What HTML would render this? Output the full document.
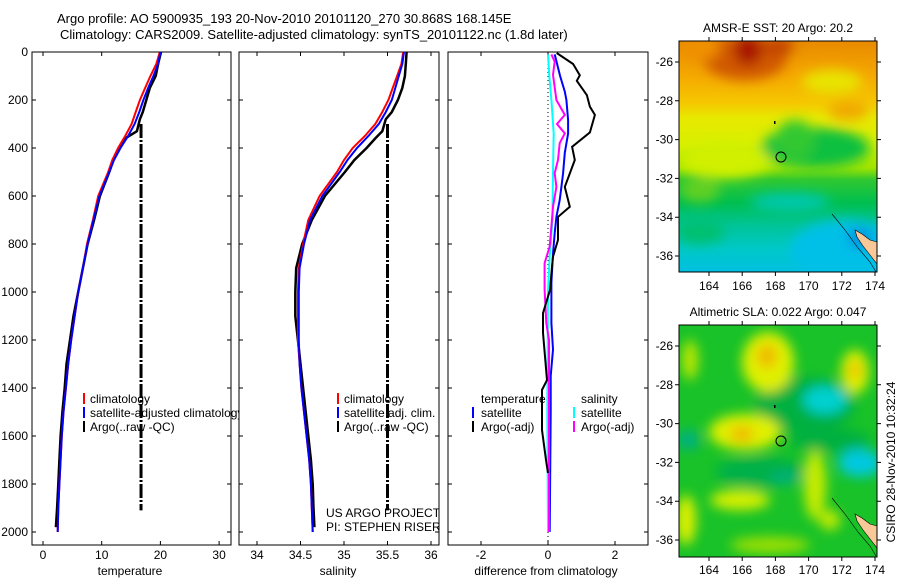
<!DOCTYPE html>
<html><head><meta charset="utf-8"><style>
html,body{margin:0;padding:0;background:#fff;width:900px;height:580px;overflow:hidden}
svg{display:block;font-family:"Liberation Sans",sans-serif}
</style></head><body>
<svg id="fig" width="900" height="580" viewBox="0 0 900 580" xmlns="http://www.w3.org/2000/svg">
<defs>
<clipPath id="c1"><rect x="32" y="52" width="207" height="494"/></clipPath>
<clipPath id="c2"><rect x="239" y="52" width="200" height="494"/></clipPath>
<clipPath id="c3"><rect x="448" y="52" width="200" height="494"/></clipPath>
<clipPath id="m1c"><rect x="679" y="41" width="198" height="231"/></clipPath>
<clipPath id="m2c"><rect x="679" y="325" width="198" height="232"/></clipPath>
<filter id="bl" filterUnits="userSpaceOnUse" x="600" y="0" width="300" height="580"><feGaussianBlur stdDeviation="6"/></filter>
<linearGradient id="sstg" x1="0" y1="0" x2="0" y2="1">
<stop offset="0" stop-color="#e88a00"/><stop offset="0.15" stop-color="#f5a800"/>
<stop offset="0.27" stop-color="#f5c800"/><stop offset="0.33" stop-color="#e8e800"/>
<stop offset="0.45" stop-color="#d8f000"/><stop offset="0.55" stop-color="#a0e400"/>
<stop offset="0.6" stop-color="#30c830"/><stop offset="0.7" stop-color="#00bf50"/>
<stop offset="0.8" stop-color="#00c498"/><stop offset="0.9" stop-color="#00c8c8"/>
<stop offset="1" stop-color="#00c0e0"/></linearGradient>
</defs>

<text x="57" y="23" font-size="13">Argo profile: AO 5900935_193 20-Nov-2010 20101120_270 30.868S 168.145E</text>
<text x="60" y="39" font-size="13">Climatology: CARS2009. Satellite-adjusted climatology: synTS_20101122.nc (1.8d later)</text>

<g clip-path="url(#m1c)">
<rect x="679" y="41" width="198" height="231" fill="url(#sstg)"/>
<g filter="url(#bl)">
<ellipse cx="745" cy="58" rx="42" ry="22" fill="#d05800"/>
<ellipse cx="748" cy="50" rx="14" ry="15" fill="#a81800"/>
<ellipse cx="778" cy="46" rx="16" ry="8" fill="#c04000"/>
<ellipse cx="700" cy="50" rx="20" ry="10" fill="#f09000"/>
<ellipse cx="832" cy="82" rx="30" ry="12" fill="#e8e400"/>
<ellipse cx="848" cy="110" rx="20" ry="10" fill="#f0a800"/>
<ellipse cx="815" cy="148" rx="55" ry="20" fill="#10c040"/>
<ellipse cx="795" cy="140" rx="20" ry="20" fill="#30c830"/>
<ellipse cx="725" cy="160" rx="45" ry="18" fill="#d0f000"/>
<ellipse cx="700" cy="190" rx="20" ry="12" fill="#60d020"/>
<ellipse cx="790" cy="202" rx="40" ry="9" fill="#00c8b0"/>
<ellipse cx="845" cy="250" rx="55" ry="30" fill="#00c0e8"/>
<ellipse cx="860" cy="238" rx="12" ry="10" fill="#0090e0"/>
<ellipse cx="700" cy="232" rx="25" ry="12" fill="#00c070"/>
</g>
<polygon points="855,230 862,234 870,240 877,242 877,264 870,255 863,246 857,237" fill="#f8c898" stroke="#000" stroke-width="0.6"/>
<polyline points="832,214 845,230 858,248 870,262 876,272" fill="none" stroke="#000" stroke-width="0.6"/>
<circle cx="781" cy="157" r="5" fill="none" stroke="#000" stroke-width="1"/>
<rect x="774" y="121" width="1.5" height="3" fill="#000"/>
</g>
<rect x="679" y="41" width="198" height="231" fill="none" stroke="#000" stroke-width="1"/>
<text x="778" y="32" font-size="12" text-anchor="middle">AMSR-E SST: 20 Argo: 20.2</text>

<g clip-path="url(#m2c)">
<rect x="679" y="325" width="198" height="232" fill="#18c228"/>
<g filter="url(#bl)">
<ellipse cx="805" cy="405" rx="50" ry="28" fill="#00b040"/>
<ellipse cx="760" cy="472" rx="45" ry="15" fill="#00b048"/>
<ellipse cx="830" cy="440" rx="40" ry="12" fill="#00b040"/>
<ellipse cx="768" cy="362" rx="26" ry="30" fill="#e0f000"/>
<ellipse cx="855" cy="372" rx="14" ry="22" fill="#e0f000"/>
<ellipse cx="745" cy="432" rx="36" ry="18" fill="#e0f000"/>
<ellipse cx="815" cy="485" rx="11" ry="35" fill="#c8ec00"/>
<ellipse cx="740" cy="500" rx="30" ry="10" fill="#d8f000"/>
<ellipse cx="686" cy="520" rx="10" ry="25" fill="#e0f000"/>
<ellipse cx="830" cy="520" rx="10" ry="10" fill="#c8ec00"/>
<ellipse cx="770" cy="545" rx="40" ry="8" fill="#a0e000"/>
<ellipse cx="690" cy="360" rx="8" ry="20" fill="#c0e800"/>
<ellipse cx="767" cy="356" rx="10" ry="12" fill="#f0b800"/>
<ellipse cx="855" cy="370" rx="6" ry="8" fill="#f0b800"/>
<ellipse cx="742" cy="434" rx="12" ry="8" fill="#f0b800"/>
<ellipse cx="825" cy="400" rx="22" ry="14" fill="#00d0d0"/>
<ellipse cx="860" cy="463" rx="22" ry="14" fill="#00c8e0"/>
<ellipse cx="688" cy="440" rx="12" ry="10" fill="#00b080"/>
<ellipse cx="785" cy="478" rx="15" ry="6" fill="#00b080"/>
</g>
<polygon points="855,514 862,518 870,524 877,526 877,548 870,539 863,530 857,521" fill="#f8c898" stroke="#000" stroke-width="0.6"/>
<polyline points="832,498 845,514 858,532 870,546 876,556" fill="none" stroke="#000" stroke-width="0.6"/>
<circle cx="781" cy="441" r="5" fill="none" stroke="#000" stroke-width="1"/>
<rect x="774" y="405" width="1.5" height="3" fill="#000"/>
</g>
<rect x="679" y="325" width="198" height="232" fill="none" stroke="#000" stroke-width="1"/>
<text x="778" y="316" font-size="12" text-anchor="middle">Altimetric SLA: 0.022 Argo: 0.047</text>

<text x="0" y="0" font-size="12" text-anchor="middle" transform="translate(895,462) rotate(-90)">CSIRO 28-Nov-2010 10:32:24</text>

<g id="plots"></g>

<g clip-path="url(#c1)" font-size="12">
<rect x="83" y="393" width="2" height="11" fill="#f00"/><text x="90" y="403">climatology</text>
<rect x="83" y="407" width="2" height="11" fill="#00f"/><text x="90" y="417">satellite-adjusted climatology</text>
<rect x="83" y="421" width="2" height="11" fill="#000"/><text x="90" y="431">Argo(..raw -QC)</text>
</g>
<g clip-path="url(#c2)" font-size="12">
<rect x="337" y="393" width="2" height="11" fill="#f00"/><text x="344" y="403">climatology</text>
<rect x="337" y="407" width="2" height="11" fill="#00f"/><text x="344" y="417">satellite adj. clim.</text>
<rect x="337" y="421" width="2" height="11" fill="#000"/><text x="344" y="431">Argo(..raw -QC)</text>
<text x="326" y="517">US ARGO PROJECT</text>
<text x="326" y="531">PI: STEPHEN RISER</text>
</g>
<g clip-path="url(#c3)" font-size="12">
<text x="481" y="403">temperature</text>
<rect x="472" y="407" width="2" height="11" fill="#00f"/><text x="481" y="417">satellite</text>
<rect x="472" y="421" width="2" height="11" fill="#000"/><text x="481" y="431">Argo(-adj)</text>
<text x="581" y="403">salinity</text>
<rect x="573" y="407" width="2" height="11" fill="#0ff"/><text x="581" y="417">satellite</text>
<rect x="573" y="421" width="2" height="11" fill="#f0f"/><text x="581" y="431">Argo(-adj)</text>
</g>

<text x="130" y="575" font-size="12" text-anchor="middle">temperature</text>
<text x="338" y="575" font-size="12" text-anchor="middle">salinity</text>
<text x="546" y="575" font-size="12" text-anchor="middle">difference from climatology</text>
</svg>
<script>
const depthClim = [0,50,100,150,200,250,300,350,400,450,500,600,700,800,900,1000,1100,1200,1300,1400,1500,1600,1700,1800,1900,2000];
const tempClim = [19.9,19.3,18.3,17.4,16.5,15.8,15.1,14.0,12.8,11.8,11.1,9.4,8.5,7.5,6.8,6.0,5.4,4.8,4.3,3.9,3.5,3.2,3.0,2.8,2.6,2.5];
const tempSat = [20.0,19.6,18.8,17.9,17.1,16.4,15.6,14.5,13.2,12.1,11.3,9.6,8.6,7.6,6.8,6.0,5.4,4.8,4.3,3.9,3.5,3.2,3.0,2.8,2.6,2.5];
const depthArgo = [0,50,100,150,200,250,280,330,360,400,450,500,600,700,800,900,1000,1100,1200,1300,1400,1500,1600,1700,1800,1900,1980];
const tempArgo = [20.1,19.6,19.2,18.2,17.6,17.0,16.5,16.0,14.0,13.0,12.0,11.3,9.7,8.7,7.6,6.8,6.0,5.2,4.6,4.0,3.7,3.3,3.0,2.8,2.6,2.4,2.2];
const salClim = [35.68,35.66,35.61,35.56,35.51,35.44,35.36,35.24,35.10,35.00,34.92,34.72,34.59,34.53,34.48,34.47,34.47,34.47,34.49,34.51,34.54,34.57,34.60,34.62,34.63,34.64];
const salSat = [35.69,35.67,35.63,35.59,35.55,35.48,35.40,35.28,35.15,35.04,34.95,34.75,34.61,34.54,34.49,34.48,34.48,34.48,34.49,34.51,34.54,34.57,34.60,34.62,34.63,34.64];
const salArgo = [35.72,35.71,35.70,35.67,35.62,35.55,35.48,35.44,35.36,35.26,35.12,35.01,34.78,34.63,34.52,34.45,34.44,34.44,34.47,34.50,34.53,34.56,34.59,34.62,34.64,34.65,34.66];
const qcDepths = [300,1910];
const tempQC = 16.7;
const salQC = 35.5;
const dTempArgoDepth = [4,50,97,120,180,228,262,335,395,450,562,645,687,783,853,895,992,1088,1170,1367,1408,1575,1700,1754];
const dTempArgo = [0.26,0.75,0.95,0.86,1.16,1.25,1.4,1.25,0.72,0.8,0.5,0.65,0.3,0.3,0.15,0.12,0.06,-0.15,-0.15,-0.03,-0.18,-0.18,-0.06,0.0];
const dTempSatDepth = [10,100,165,200,283,340,420,505,562,617,687,755,840,960,1130,1240,1350,1500,2000];
const dTempSat = [0.2,0.36,0.5,0.55,0.6,0.6,0.5,0.45,0.4,0.35,0.25,0.2,0.15,0.1,0.1,0.15,0.08,0.08,0.05];
const dSalSatDepth = [10,100,200,340,500,700,850,1000,1500,2000];
const dSalSat = [0.0,0.04,0.1,0.17,0.15,0.13,0.05,0.0,-0.02,0.0];
const dSalArgoDepth = [10,40,95,200,262,300,339,380,450,505,562,645,727,810,880,990,1130,1200,2000];
const dSalArgo = [0.1,0.2,0.15,0.25,0.5,0.27,0.5,0.35,0.3,0.2,0.25,0.15,0.1,0.05,-0.1,-0.1,-0.05,0.03,0.03];
const depthTicks = [0,200,400,600,800,1000,1200,1400,1600,1800,2000];
const tempTicks = [0,10,20,30];
const salTicks = [34,34.5,35,35.5,36];
const diffTicks = [-2,0,2];
const lonTicks = [164,166,168,170,172,174];
const latTicks = [-26,-28,-30,-32,-34,-36];

const NS = 'http://www.w3.org/2000/svg';
const root = document.getElementById('plots');
const yD = d => 52 + d * 0.24;
const xT = t => 43 + t * 5.87;
const xS = s => 257 + (s - 34) * 87;
const xDf = v => 548 + v * 33.5;
const lonX = l => 709 + (l - 164) * 16.6;
const latY1 = l => 62 + (-26 - l) * 19.4;
const latY2 = l => 346 + (-26 - l) * 19.4;

function mk(tag, attrs, parent) {
  const el = document.createElementNS(NS, tag);
  for (const k in attrs) el.setAttribute(k, attrs[k]);
  (parent || root).appendChild(el);
  return el;
}

function line(xs, ds, xf, color, w, clip, name) {
  const pts = xs.map((v, i) => xf(v).toFixed(1) + ',' + yD(ds[i]).toFixed(1)).join(' ');
  const el = mk('polyline', {points: pts, fill: 'none', stroke: color, 'stroke-width': w, 'clip-path': 'url(#' + clip + ')'});
  
  
}

function qc(v, xf, clip, name) {
  const el = mk('line', {x1: xf(v), x2: xf(v), y1: yD(qcDepths[0]), y2: yD(qcDepths[1]), stroke: '#000', 'stroke-width': 3, 'stroke-dasharray': '14 2 2 2', 'clip-path': 'url(#' + clip + ')'});
  
  
}

function panel(x0, x1, ticks, xf, name, fmt, yLabels) {
  const fr = mk('rect', {x: x0, y: 52, width: x1 - x0, height: 493, fill: '#fff', stroke: '#000', 'stroke-width': 1});
  
  
  ticks.forEach(t => {
    const x = xf(t);
    const a = mk('path', {d: 'M' + x + ',52v4M' + x + ',545v-4', stroke: '#000', 'stroke-width': 1});
    
    
    const lb = mk('text', {x: x, y: 559, 'font-size': 12, 'text-anchor': 'middle'});
    lb.textContent = fmt(t);
    
    
  });
  depthTicks.forEach(d => {
    const y = yD(d);
    const a = mk('path', {d: 'M' + x0 + ',' + y + 'h4M' + x1 + ',' + y + 'h-4', stroke: '#000', 'stroke-width': 1});
    
    
    if (yLabels) {
      const lb = mk('text', {x: 28, y: y + 4, 'font-size': 12, 'text-anchor': 'end'});
      lb.textContent = d;
      
      
    }
  });
}

panel(32, 231, tempTicks, xT, 'temperature-panel', t => t, true);
panel(239, 439, salTicks, xS, 'salinity-panel', t => String(t), false);
panel(448, 648, diffTicks, xDf, 'difference-panel', t => t < 0 ? '-' + Math.abs(t) : t, false);

qc(tempQC, xT, 'c1', 'temperature-qc-line');
line(tempArgo, depthArgo, xT, '#000', 2.5, 'c1', 'temperature-argo-line');
line(tempClim, depthClim, xT, '#f00', 2, 'c1', 'temperature-climatology-line');
line(tempSat, depthClim, xT, '#00f', 2, 'c1', 'temperature-satellite-line');

qc(salQC, xS, 'c2', 'salinity-qc-line');
line(salArgo, depthArgo, xS, '#000', 2.5, 'c2', 'salinity-argo-line');
line(salClim, depthClim, xS, '#f00', 2, 'c2', 'salinity-climatology-line');
line(salSat, depthClim, xS, '#00f', 2, 'c2', 'salinity-satellite-line');

const zl = mk('line', {x1: xDf(0), x2: xDf(0), y1: 52, y2: 545, stroke: '#000', 'stroke-width': 1, 'stroke-dasharray': '1 3'});


line(dSalSat, dSalSatDepth, xDf, '#0ff', 2, 'c3', 'salinity-satellite-diff-line');
line(dTempSat, dTempSatDepth, xDf, '#00f', 2, 'c3', 'temperature-satellite-diff-line');
line(dSalArgo, dSalArgoDepth, xDf, '#f0f', 2, 'c3', 'salinity-argo-diff-line');
line(dTempArgo, dTempArgoDepth, xDf, '#000', 2, 'c3', 'temperature-argo-diff-line');

[[41, 272, latY1, 290, 'sst-map'], [325, 557, latY2, 574, 'sla-map']].forEach(m => {
  const [top, bot, ly, lbY, name] = m;
  lonTicks.forEach(l => {
    const x = lonX(l);
    const t = mk('path', {d: 'M' + x + ',' + top + 'v-4M' + x + ',' + bot + 'v4', stroke: '#000', 'stroke-width': 1});
    
    
    const lb = mk('text', {x: x, y: lbY, 'font-size': 12, 'text-anchor': 'middle'});
    lb.textContent = l;
    
    
  });
  latTicks.forEach(l => {
    const y = ly(l);
    const t = mk('path', {d: 'M679,' + y + 'h-4M877,' + y + 'h4', stroke: '#000', 'stroke-width': 1});
    
    
    const lb = mk('text', {x: 673, y: y + 4, 'font-size': 12, 'text-anchor': 'end'});
    lb.textContent = l;
    
    
  });
});
</script>
</body></html>
